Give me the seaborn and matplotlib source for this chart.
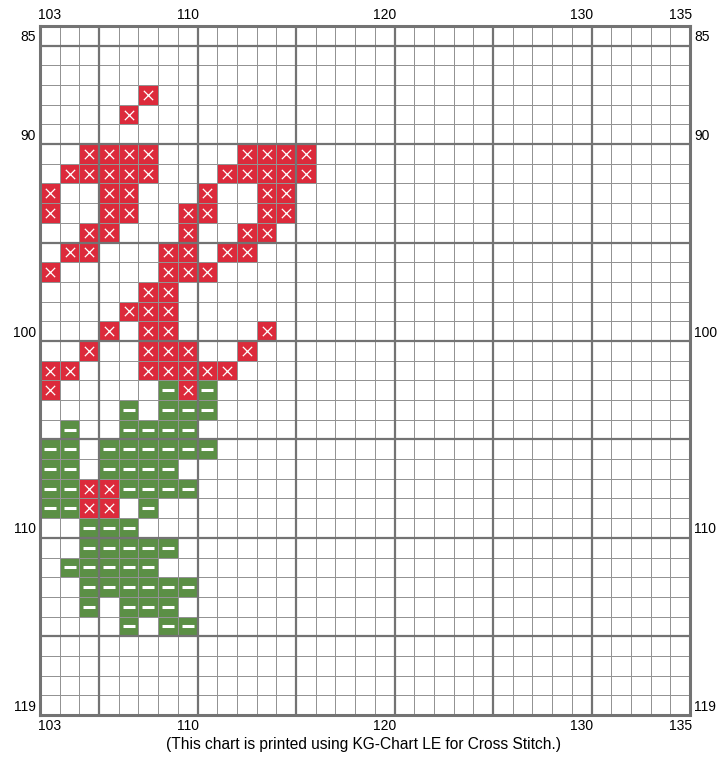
import numpy as np
import pandas as pd
import matplotlib
matplotlib.use('Agg')
import matplotlib.pyplot as plt
from matplotlib.colors import ListedColormap
import seaborn as sns

# Chart extent (stitch columns and rows)
first_col, last_col = 103, 135
first_row, last_row = 85, 119

# Axis labels shown on the chart
col_labels = [103, 110, 120, 130, 135]
row_labels = [85, 90, 100, 110, 119]

# Red "x" stitches: row -> columns
red_stitches = {
    88: [108],
    89: [107],
    91: [105, 106, 107, 108, 113, 114, 115, 116],
    92: [104, 105, 106, 107, 108, 112, 113, 114, 115, 116],
    93: [103, 106, 107, 111, 114, 115],
    94: [103, 106, 107, 110, 111, 114, 115],
    95: [105, 106, 110, 113, 114],
    96: [104, 105, 109, 110, 112, 113],
    97: [103, 109, 110, 111],
    98: [108, 109],
    99: [107, 108, 109],
    100: [106, 108, 109, 114],
    101: [105, 108, 109, 110, 113],
    102: [103, 104, 108, 109, 110, 111, 112],
    103: [103, 110],
    108: [105, 106],
    109: [105, 106],
}

# Green "-" stitches: row -> columns
green_stitches = {
    103: [109, 111],
    104: [107, 109, 110, 111],
    105: [104, 107, 108, 109, 110],
    106: [103, 104, 106, 107, 108, 109, 110, 111],
    107: [103, 104, 106, 107, 108, 109],
    108: [103, 104, 107, 108, 109, 110],
    109: [103, 104, 108],
    110: [105, 106, 107],
    111: [105, 106, 107, 108, 109],
    112: [104, 105, 106, 107, 108],
    113: [105, 106, 107, 108, 109, 110],
    114: [105, 107, 108, 109],
    115: [107, 109, 110],
}

red_color = '#dc2a3b'
green_color = '#5b8f45'
thin_line = '#939393'
thick_line = '#737373'

cols = list(range(first_col, last_col + 1))
rows = list(range(first_row, last_row + 1))

# Build the grid: 0 = empty, 1 = red, 2 = green
grid = pd.DataFrame(0, index=rows, columns=cols)
for r, cs in red_stitches.items():
    grid.loc[r, cs] = 1
for r, cs in green_stitches.items():
    grid.loc[r, cs] = 2

# Long table of stitches for the symbols
stitch_list = []
for r, cs in red_stitches.items():
    for c in cs:
        stitch_list.append({'x': cols.index(c) + 0.5, 'y': rows.index(r) + 0.5, 'kind': 'red'})
for r, cs in green_stitches.items():
    for c in cs:
        stitch_list.append({'x': cols.index(c) + 0.5, 'y': rows.index(r) + 0.5, 'kind': 'green'})
stitches = pd.DataFrame(stitch_list)

W, H = 718, 758
fig = plt.figure(figsize=(W / 100, H / 100), dpi=100)
ax = fig.add_axes([40 / W, (H - 715) / H, 650 / W, 689 / H])

sns.heatmap(grid, cmap=ListedColormap(['white', red_color, green_color]),
            vmin=-0.5, vmax=2.5, cbar=False, linewidths=0.7, linecolor=thin_line,
            xticklabels=False, yticklabels=False, ax=ax)

# Heavier lines every five stitches
for c in cols:
    if c % 5 == 0 and c != last_col:
        ax.axvline(cols.index(c) + 1, color=thick_line, lw=1.6)
for r in rows:
    if r % 5 == 0 and r != last_row:
        ax.axhline(rows.index(r) + 1, color=thick_line, lw=1.6)

for side in ['left', 'right', 'top', 'bottom']:
    ax.spines[side].set_visible(True)
    ax.spines[side].set_color(thick_line)
    ax.spines[side].set_linewidth(2.2)

# Stitch symbols
red_pts = stitches[stitches['kind'] == 'red']
green_pts = stitches[stitches['kind'] == 'green']
sns.scatterplot(data=red_pts, x='x', y='y', marker='x', s=45, color='white',
                linewidth=0.9, ax=ax, legend=False, zorder=5)
sns.scatterplot(data=green_pts, x='x', y='y', marker='_', s=75, color='white',
                linewidth=2.2, ax=ax, legend=False, zorder=5)
ax.set_xlim(0, len(cols))
ax.set_ylim(len(rows), 0)
ax.set_xlabel('')
ax.set_ylabel('')

# Labels on all four sides
ax.set_xticks([cols.index(c) + 0.5 for c in col_labels])
ax.set_xticklabels([str(c) for c in col_labels])
ax.set_yticks([rows.index(r) + 0.5 for r in row_labels])
ax.set_yticklabels([str(r) for r in row_labels], rotation=0)
ax.tick_params(axis='x', length=0, labelsize=10, pad=3,
               top=False, bottom=False, labeltop=True, labelbottom=True)
ax.tick_params(axis='y', length=0, labelsize=10, pad=3,
               left=False, right=False, labelleft=True, labelright=True)
for lab in ax.get_xticklabels() + ax.get_yticklabels():
    lab.set_fontfamily(['Liberation Sans', 'DejaVu Sans'])

fig.text(364 / W, 1 - 745 / H, '(This chart is printed using KG-Chart LE for Cross Stitch.)',
         ha='center', va='center', fontsize=11.2, family=['Liberation Sans', 'DejaVu Sans'])

fig.savefig('out.png', dpi=100)
